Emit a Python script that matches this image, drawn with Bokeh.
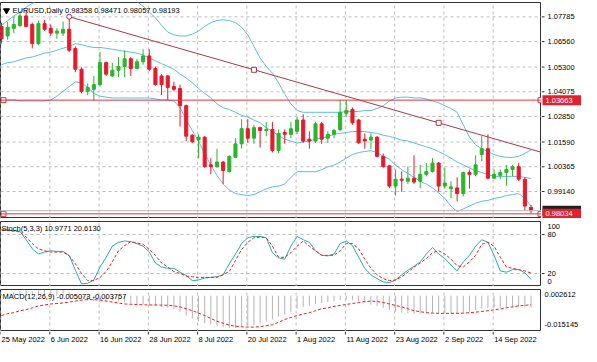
from bokeh.plotting import figure
from bokeh.layouts import column, row
from bokeh.models import Range1d, Label, Span, ColumnDataSource
from bokeh.core.properties import value
from bokeh.embed import file_html
from bokeh.resources import INLINE

# ---------------- data ----------------
date_ticks = [0, 8, 16, 24, 32, 40, 48, 56, 64, 72, 80]
date_labels = ["25 May 2022", "6 Jun 2022", "16 Jun 2022", "28 Jun 2022", "8 Jul 2022",
               "20 Jul 2022", "1 Aug 2022", "11 Aug 2022", "23 Aug 2022", "2 Sep 2022",
               "14 Sep 2022"]

opens = [1.0731, 1.0684, 1.0722, 1.0736, 1.0783, 1.0741, 1.0646, 1.0745, 1.0722, 1.0698,
         1.0698, 1.0717, 1.0622, 1.0519, 1.0410, 1.0420, 1.0443, 1.0552, 1.0486, 1.0514,
         1.0533, 1.0571, 1.0523, 1.0556, 1.0585, 1.0523, 1.0486, 1.0486, 1.0434, 1.0424,
         1.0339, 1.0193, 1.0169, 1.0183, 1.0046, 1.0037, 1.0060, 1.0013, 1.0083, 1.0150,
         1.0225, 1.0178, 1.0230, 1.0216, 1.0221, 1.0117, 1.0206, 1.0197, 1.0212, 1.0268,
         1.0173, 1.0164, 1.0249, 1.0178, 1.0197, 1.0221, 1.0301, 1.0320, 1.0268, 1.0173,
         1.0169, 1.0183, 1.0088, 1.0041, 0.9941, 0.9975, 0.9965, 0.9980, 0.9965, 0.9999,
         1.0013, 1.0055, 0.9941, 0.9928, 0.9932, 0.9904, 1.0008, 0.9999, 1.0097, 1.0126,
         0.9980, 0.9994, 1.0008, 1.0023, 1.0037, 0.9975, 0.98358]
highs = [1.0750, 1.0755, 1.0779, 1.0797, 1.0812, 1.0750, 1.0760, 1.0764, 1.0741, 1.0722,
         1.0755, 1.0779, 1.0632, 1.0528, 1.0448, 1.0486, 1.0604, 1.0557, 1.0552, 1.0580,
         1.0613, 1.0580, 1.0571, 1.0618, 1.0618, 1.0533, 1.0495, 1.0490, 1.0457, 1.0443,
         1.0344, 1.0197, 1.0197, 1.0188, 1.0079, 1.0126, 1.0065, 1.0093, 1.0178, 1.0272,
         1.0272, 1.0244, 1.0235, 1.0259, 1.0259, 1.0221, 1.0221, 1.0259, 1.0283, 1.0296,
         1.0212, 1.0259, 1.0259, 1.0212, 1.0225, 1.0367, 1.0367, 1.0330, 1.0273, 1.0202,
         1.0202, 1.0188, 1.0102, 1.0046, 1.0023, 1.0013, 1.0037, 1.0093, 1.0046, 1.0055,
         1.0079, 1.0060, 1.0032, 0.9965, 0.9984, 1.0013, 1.0023, 1.0093, 1.0188, 1.0197,
         1.0023, 1.0023, 1.0046, 1.0046, 1.0056, 0.9984, 0.98471]
lows = [1.0646, 1.0665, 1.0698, 1.0727, 1.0727, 1.0622, 1.0637, 1.0708, 1.0684, 1.0670,
        1.0684, 1.0604, 1.0504, 1.0400, 1.0391, 1.0363, 1.0434, 1.0486, 1.0481, 1.0481,
        1.0481, 1.0486, 1.0519, 1.0542, 1.0509, 1.0438, 1.0391, 1.0367, 1.0410, 1.0235,
        1.0164, 1.0155, 1.0079, 1.0032, 0.9999, 1.0032, 0.9952, 1.0008, 1.0079, 1.0126,
        1.0155, 1.0150, 1.0131, 1.0188, 1.0107, 1.0103, 1.0150, 1.0178, 1.0197, 1.0155,
        1.0126, 1.0155, 1.0150, 1.0155, 1.0178, 1.0212, 1.0282, 1.0244, 1.0150, 1.0126,
        1.0126, 1.0083, 1.0032, 0.9930, 0.9894, 0.9913, 0.9952, 0.9952, 0.9930, 0.9989,
        1.0008, 0.9913, 0.9928, 0.9881, 0.9866, 0.9890, 0.9928, 0.9989, 1.0065, 0.9975,
        0.9975, 0.9975, 0.9942, 0.9989, 0.9966, 0.9819, 0.98057]
closes = [1.0670, 1.0727, 1.0741, 1.0783, 1.0731, 1.0646, 1.0745, 1.0717, 1.0698, 1.0708,
          1.0717, 1.0613, 1.0519, 1.0410, 1.0429, 1.0443, 1.0552, 1.0495, 1.0514, 1.0533,
          1.0571, 1.0523, 1.0556, 1.0585, 1.0519, 1.0443, 1.0443, 1.0429, 1.0420, 1.0339,
          1.0188, 1.0160, 1.0183, 1.0037, 1.0037, 1.0060, 1.0018, 1.0088, 1.0150, 1.0225,
          1.0178, 1.0230, 1.0216, 1.0221, 1.0117, 1.0202, 1.0197, 1.0225, 1.0268, 1.0164,
          1.0164, 1.0249, 1.0173, 1.0197, 1.0216, 1.0306, 1.0315, 1.0254, 1.0155, 1.0164,
          1.0183, 1.0088, 1.0037, 0.9941, 0.9975, 0.9970, 0.9980, 0.9961, 0.9999, 1.0013,
          1.0055, 0.9941, 0.9956, 0.9937, 0.9904, 1.0008, 0.9999, 1.0046, 1.0126, 0.9980,
          0.9999, 1.0008, 1.0023, 1.0037, 0.9975, 0.9842, 0.98193]

bb_upper = [1.0736, 1.0760, 1.0783, 1.0802, 1.0826, 1.0845, 1.0864, 1.0873, 1.0883, 1.0887,
            1.0892, 1.0897, 1.0897, 1.0897, 1.0897, 1.0897, 1.0897, 1.0892, 1.0887, 1.0883,
            1.0873, 1.0864, 1.0854, 1.0831, 1.0802, 1.0774, 1.0736, 1.0703, 1.0689, 1.0684,
            1.0684, 1.0693, 1.0708, 1.0731, 1.0750, 1.0760, 1.0764, 1.0760, 1.0750, 1.0727,
            1.0689, 1.0632, 1.0575, 1.0533, 1.0500, 1.0452, 1.0395, 1.0348, 1.0315, 1.0306,
            1.0306, 1.0306, 1.0306, 1.0306, 1.0306, 1.0306, 1.0310, 1.0310, 1.0310, 1.0315,
            1.0315, 1.0325, 1.0339, 1.0362, 1.0377, 1.0381, 1.0381, 1.0377, 1.0377, 1.0372,
            1.0362, 1.0353, 1.0339, 1.0325, 1.0306, 1.0244, 1.0183, 1.0145, 1.0126, 1.0112,
            1.0097, 1.0088, 1.0083, 1.0083, 1.0088, 1.0102, 1.0121]
bb_mid = [1.0542, 1.0552, 1.0556, 1.0566, 1.0575, 1.0580, 1.0589, 1.0599, 1.0604, 1.0613,
          1.0623, 1.0632, 1.0646, 1.0641, 1.0632, 1.0627, 1.0627, 1.0623, 1.0618, 1.0613,
          1.0608, 1.0604, 1.0599, 1.0589, 1.0575, 1.0561, 1.0547, 1.0533, 1.0519, 1.0495,
          1.0476, 1.0452, 1.0424, 1.0400, 1.0377, 1.0348, 1.0329, 1.0320, 1.0306, 1.0291,
          1.0282, 1.0268, 1.0254, 1.0230, 1.0211, 1.0192, 1.0173, 1.0164, 1.0154, 1.0159,
          1.0164, 1.0173, 1.0178, 1.0187, 1.0197, 1.0202, 1.0206, 1.0211, 1.0211, 1.0211,
          1.0206, 1.0202, 1.0192, 1.0187, 1.0178, 1.0168, 1.0164, 1.0154, 1.0145, 1.0135,
          1.0126, 1.0112, 1.0097, 1.0079, 1.0060, 1.0045, 1.0031, 1.0017, 1.0008, 0.9998,
          0.9989, 0.9989, 0.9989, 0.9989, 0.9989, 0.9984, 0.9979]
bb_lower = [1.0367, 1.0367, 1.0367, 1.0362, 1.0362, 1.0362, 1.0362, 1.0362, 1.0367, 1.0386,
            1.0410, 1.0433, 1.0457, 1.0452, 1.0429, 1.0400, 1.0386, 1.0381, 1.0377, 1.0377,
            1.0377, 1.0377, 1.0377, 1.0377, 1.0377, 1.0372, 1.0367, 1.0367, 1.0362, 1.0329,
            1.0268, 1.0216, 1.0164, 1.0102, 1.0045, 0.9993, 0.9951, 0.9922, 0.9904, 0.9899,
            0.9894, 0.9899, 0.9913, 0.9927, 0.9937, 0.9941, 0.9951, 0.9984, 1.0012, 1.0012,
            1.0012, 1.0012, 1.0022, 1.0036, 1.0045, 1.0060, 1.0079, 1.0097, 1.0107, 1.0112,
            1.0116, 1.0107, 1.0088, 1.0074, 1.0045, 1.0022, 1.0003, 0.9984, 0.9965, 0.9951,
            0.9932, 0.9908, 0.9880, 0.9842, 0.9814, 0.9828, 0.9842, 0.9856, 0.9866, 0.9870,
            0.9880, 0.9885, 0.9894, 0.9899, 0.9904, 0.9880, 0.9842]

stoch_k = [87, 87, 86, 85, 72, 58, 50, 53, 55, 54, 54, 48, 25, 4, 5, 10, 30, 45, 62, 68,
           70, 69, 66, 62, 53, 36, 30, 28, 28, 22, 17, 9, 10, 13, 14, 15, 18, 35, 50, 66,
           75, 77, 77, 75, 52, 44, 42, 62, 77, 72, 68, 55, 48, 47, 50, 66, 70, 63, 45, 28,
           18, 12, 7, 6, 10, 18, 25, 31, 38, 50, 60, 50, 43, 33, 24, 38, 48, 62, 72, 68,
           48, 24, 22, 26, 26, 21, 10.9771]
stoch_d = [87, 86, 85, 84, 76, 66, 58, 55, 53, 53, 53, 47, 35, 20, 9, 9, 14, 23, 38, 55,
           63, 69, 67, 65, 57, 48, 36, 30, 23, 20, 16, 15, 14, 14, 14, 14, 18, 23, 40, 57,
           68, 75, 76, 75, 62, 45, 45, 52, 62, 70, 62, 55, 48, 48, 48, 55, 66, 66, 58, 42,
           28, 18, 12, 9, 10, 15, 22, 30, 36, 43, 52, 55, 50, 42, 32, 30, 38, 48, 65, 68,
           62, 45, 30, 28, 26, 24, 20.6130]

macd_main = [0.00060, 0.00110, 0.00150, 0.00200, 0.00230, 0.00190, 0.00220, 0.00240, 0.002612, 0.00250,
             0.00240, 0.00160, 0.00030, -0.00120, -0.00200, -0.00240, -0.00180, -0.00200, -0.00210, -0.00240,
             -0.00280, -0.00330, -0.00350, -0.00360, -0.00400, -0.00450, -0.00473, -0.00514, -0.00555, -0.00677,
             -0.00840, -0.00963, -0.01085, -0.01167, -0.01208, -0.01289, -0.01330, -0.01371, -0.01371, -0.01330,
             -0.01289, -0.01248, -0.01167, -0.01085, -0.01004, -0.00881, -0.00800, -0.00677, -0.00555, -0.00473,
             -0.00432, -0.00351, -0.00310, -0.00269, -0.00228, -0.00188, -0.00167, -0.00188, -0.00249, -0.00310,
             -0.00371, -0.00432, -0.00514, -0.00616, -0.00677, -0.00718, -0.00738, -0.00759, -0.00759, -0.00738,
             -0.00718, -0.00738, -0.00738, -0.00759, -0.00759, -0.00718, -0.00677, -0.00616, -0.00534, -0.00514,
             -0.00514, -0.00514, -0.00494, -0.00473, -0.00473, -0.00494, -0.005073]
macd_signal = [-0.00840, -0.00759, -0.00718, -0.00636, -0.00596, -0.00514, -0.00432, -0.00392, -0.00351, -0.00330,
               -0.00310, -0.00269, -0.00228, -0.00188, -0.00167, -0.00167, -0.00188, -0.00228, -0.00269, -0.00310,
               -0.00351, -0.00363, -0.00375, -0.00384, -0.00392, -0.00392, -0.00400, -0.00404, -0.00432, -0.00473,
               -0.00555, -0.00636, -0.00738, -0.00840, -0.00963, -0.01085, -0.01167, -0.01248, -0.01289, -0.01318,
               -0.01330, -0.01330, -0.01310, -0.01269, -0.01228, -0.01126, -0.01004, -0.00922, -0.00840, -0.00779,
               -0.00718, -0.00636, -0.00555, -0.00514, -0.00453, -0.00412, -0.00371, -0.00330, -0.00290, -0.00249,
               -0.00228, -0.00249, -0.00290, -0.00351, -0.00412, -0.00473, -0.00555, -0.00636, -0.00677, -0.00718,
               -0.00738, -0.00747, -0.00747, -0.00747, -0.00747, -0.00738, -0.00718, -0.00698, -0.00665, -0.00636,
               -0.00596, -0.00567, -0.00514, -0.00473, -0.00432, -0.00412, -0.003757]

price_ticks = [1.07785, 1.06560, 1.05300, 1.04075, 1.02850, 1.01590, 1.00365, 0.99140]
stoch_ticks = [100, 80, 20, 0]
stoch_levels = [80, 20]
trend_x = [11, 71]
trend_y = [1.0779, 1.0254]
hline_levels = [1.03663, 0.98034]
bid_price = 0.98193
title_text = "EURUSD,Daily 0.98358 0.98471 0.98057 0.98193"
stoch_text = "Stoch(5,3,3) 10.9771 20.6130"
macd_text = "MACD(12,26,9) -0.005073 -0.003757"
macd_top, macd_bottom = 0.002612, -0.015145

# ---------------- layout / style ----------------
W, AXW = 581, 40
FW = W - AXW
MAIN_H, STO_H, MACD_H, DATE_H = 216, 65, 42, 15
TOP1, TOP2, TOP3 = 2, 3, 3
X0, X1 = -0.16, 87.7
PMIN, PMAX = 0.97805, 1.08495
FONT = "Liberation Sans"
FS = "7.5px"
GRID = "#BDBDBD"
BULL, BEAR = "#2DB42D", "#E8192C"
BB_COL = "#5DBDE6"
RED = "#E5303C"
LABEL_RED = "#E3202C"
TREND = "#A53A48"
FRAME = "#333333"


def dx(px):
    return px * (X1 - X0) / FW


tick_pos = [t - 0.15 for t in date_ticks]


def base_fig(fw, fh, xr, yr, top):
    p = figure(frame_width=fw, frame_height=fh, x_range=xr, y_range=yr,
               output_backend="svg", toolbar_location=None,
               x_axis_location=None, y_axis_location=None,
               min_border=0, min_border_top=top)
    p.background_fill_color = "white"
    p.border_fill_color = "white"
    p.grid.visible = False
    p.outline_line_color = None
    return p


def panel(fh, y0, y1, top, ygrid_ticks):
    p = base_fig(FW, fh, Range1d(X0, X1), Range1d(y0, y1), top)
    p.outline_line_color = FRAME
    p.outline_line_width = 1
    p.segment(x0=tick_pos, y0=y0, x1=tick_pos, y1=y1, color=GRID, line_dash="3 3", line_width=1)
    if ygrid_ticks:
        p.segment(x0=X0, y0=ygrid_ticks, x1=X1, y1=ygrid_ticks, color=GRID,
                  line_dash="3 3", line_width=1)
    return p


def side(p, fh, top):
    return base_fig(AXW, fh, Range1d(0, AXW), p.y_range, top)


def txt(fig, x, y, text, color="black", align="left"):
    fig.text(x=x, y=y, text=text, text_font=value(FONT), text_font_size=value(FS),
             text_color=color, text_align=align, text_baseline="middle")


# ---------------- main price panel ----------------
p1 = panel(MAIN_H, PMIN, PMAX, TOP1, price_ticks)
py1 = (PMAX - PMIN) / MAIN_H

idx = list(range(len(opens)))
cols = [BULL if c >= o else BEAR for o, c in zip(opens, closes)]
src = ColumnDataSource(dict(x=idx, h=highs, l=lows,
                            top=[max(o, c) for o, c in zip(opens, closes)],
                            bottom=[min(o, c) for o, c in zip(opens, closes)],
                            color=cols))

for band in (bb_upper, bb_mid, bb_lower):
    p1.line(idx, band, color=BB_COL, line_width=1)

p1.segment(x0="x", y0="h", x1="x", y1="l", color="color", line_width=1, source=src)
p1.vbar(x="x", width=0.5, top="top", bottom="bottom", fill_color="color",
        line_color="color", line_width=1, source=src)

for lvl in hline_levels:
    p1.add_layout(Span(location=lvl, dimension="width", line_color=RED, line_width=1))
    p1.scatter([X0 + dx(3), X1 - dx(1)], [lvl, lvl], marker="square", size=5,
               fill_color="white", line_color=RED, line_width=1)
p1.add_layout(Span(location=bid_price, dimension="width", line_color="#B8B8B8", line_width=1))

slope = (trend_y[1] - trend_y[0]) / (trend_x[1] - trend_x[0])
xe = X1 + 1
p1.line([trend_x[0], xe], [trend_y[0], trend_y[0] + slope * (xe - trend_x[0])],
        color=TREND, line_width=1)
p1.scatter([trend_x[0]], [trend_y[0]], marker="circle", size=5, fill_color="white",
           line_color=TREND)
xm = (trend_x[0] + trend_x[1]) / 2
p1.scatter([xm, trend_x[1]], [trend_y[0] + slope * (xm - trend_x[0]), trend_y[1]],
           marker="square", size=5, fill_color="white", line_color=TREND)

p1.scatter([X0 + dx(6)], [PMAX - 8 * py1], marker="inverted_triangle", size=6, color="black")
p1.add_layout(Label(x=X0 + dx(12), y=PMAX - 8 * py1, text=title_text, text_font=FONT,
                    text_font_size=FS, text_color="black", text_baseline="middle"))

s1 = side(p1, MAIN_H, TOP1)
s1.segment(x0=0, y0=price_ticks, x1=3, y1=price_ticks, color=FRAME, line_width=1)
txt(s1, 6, price_ticks, [f"{t:.5f}" for t in price_ticks])
s1.rect(x=AXW / 2 + 0.5, y=bid_price, width=AXW - 1, height=10 * py1, fill_color="#202020",
        line_color=None)
for lvl in hline_levels:
    s1.rect(x=AXW / 2 + 0.5, y=lvl, width=AXW - 1, height=10 * py1, fill_color=LABEL_RED,
            line_color=None)
txt(s1, 4, hline_levels, [f"{l:.5f}" for l in hline_levels], color="white")

# ---------------- stochastic panel ----------------
p2 = panel(STO_H, 0, 100, TOP2, stoch_levels)
py2 = 100 / STO_H
p2.line(idx, stoch_k, color="#20B2AA", line_width=1)
p2.line(idx, stoch_d, color="#F01E1E", line_width=1, line_dash="3 2")
p2.add_layout(Label(x=X0 + dx(1), y=100 - 7 * py2, text=stoch_text, text_font=FONT,
                    text_font_size=FS, text_color="black", text_baseline="middle"))

s2 = side(p2, STO_H, TOP2)
s2.segment(x0=0, y0=stoch_levels, x1=3, y1=stoch_levels, color=FRAME, line_width=1)
stoch_label_y = [min(max(t, 5 * py2), 100 - 5 * py2) for t in stoch_ticks]
txt(s2, 6, stoch_label_y, [str(t) for t in stoch_ticks])

# ---------------- MACD panel ----------------
p3 = panel(MACD_H, macd_bottom, macd_top, TOP3, None)
py3 = (macd_top - macd_bottom) / MACD_H
p3.segment(x0=idx, y0=0, x1=idx, y1=macd_main, color="#B4B4B4", line_width=1)
p3.line(idx, macd_signal, color="#F01E1E", line_width=1, line_dash="3 2")
p3.add_layout(Label(x=X0 + dx(2), y=macd_top - 7 * py3, text=macd_text, text_font=FONT,
                    text_font_size=FS, text_color="black", text_baseline="middle",
                    background_fill_color="white", background_fill_alpha=0.0))

s3 = side(p3, MACD_H, TOP3)
txt(s3, 3, [macd_top - 5 * py3, macd_bottom + 7 * py3],
    [f"{macd_top:.6f}", f"{macd_bottom:.6f}"])

# ---------------- date strip ----------------
d = base_fig(W, DATE_H, Range1d(X0, X0 + dx(W)), Range1d(0, DATE_H), 0)
d.segment(x0=tick_pos, y0=DATE_H, x1=tick_pos, y1=DATE_H - 3, color=FRAME, line_width=1)
txt(d, [t + dx(1) for t in tick_pos], 7, date_labels)

layout = column(row(p1, s1, spacing=0), row(p2, s2, spacing=0), row(p3, s3, spacing=0), d,
                spacing=0)
open("out.html", "w").write(file_html(layout, INLINE))
